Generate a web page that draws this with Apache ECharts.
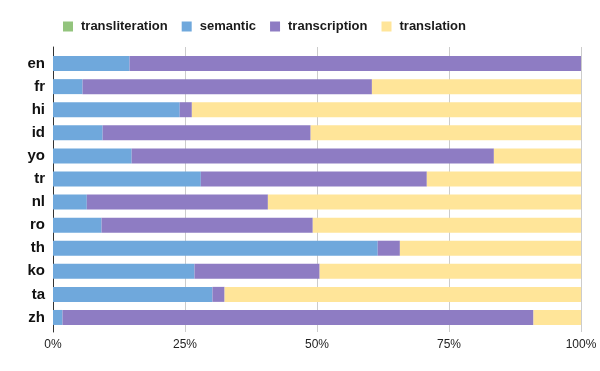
<!DOCTYPE html>
<html>
<head>
<meta charset="utf-8">
<script src="https://cdn.jsdelivr.net/npm/echarts@6/dist/echarts.min.js"></script>
<style>
  html, body { margin: 0; padding: 0; background: #fff; }
  #chart { width: 600px; height: 371px; }
</style>
</head>
<body>
<div id="chart"></div>
<script>
// categories, top to bottom
const languages = ['en', 'fr', 'hi', 'id', 'yo', 'tr', 'nl', 'ro', 'th', 'ko', 'ta', 'zh']
// share of each type, in percent
const transliteration = [0, 0, 0, 0, 0, 0, 0, 0, 0, 0, 0, 0]
const semantic = [14.5, 5.6, 24.0, 9.4, 14.9, 28.0, 6.4, 9.2, 61.5, 26.8, 30.2, 1.8]
const transcription = [85.5, 54.8, 2.3, 39.4, 68.6, 42.8, 34.3, 40.0, 4.2, 23.7, 2.3, 89.2]
const translation = [0, 39.6, 73.7, 51.2, 16.5, 29.2, 59.3, 50.8, 34.3, 49.5, 67.5, 9.0]
const tickLabels = ['0%', '25%', '50%', '75%', '100%']

let chart = echarts.init(document.getElementById('chart'))

function bar(name, data, color) {
  return {
    name: name,
    type: 'bar',
    stack: 'total',
    xAxisIndex: 1,
    yAxisIndex: 1,
    data: data,
    barWidth: 15,
    itemStyle: { color: color },
    emphasis: { disabled: true }
  }
}

chart.setOption({
  animation: false,
  textStyle: { fontFamily: 'Liberation Sans, Arial, sans-serif' },
  legend: {
    top: 15,
    left: 58,
    itemWidth: 10,
    itemHeight: 10,
    itemGap: 14,
    icon: 'rect',
    textStyle: { fontSize: 13, fontWeight: 'bold', color: '#1a1a1a', padding: [0, 0, 0, 3] },
    data: ['transliteration', 'semantic', 'transcription', 'translation']
  },
  // grid 0 carries the gridlines, grid 1 the bars (lines run a bit past the bars)
  grid: [
    { left: 53, right: 19, top: 47, bottom: 39 },
    { left: 53, right: 19, top: 52, bottom: 42 }
  ],
  xAxis: [{
    gridIndex: 0,
    type: 'value',
    min: 0,
    max: 100,
    interval: 25,
    axisLine: { show: false },
    axisTick: { show: false },
    splitLine: { lineStyle: { color: '#cccccc', width: 1 } },
    axisLabel: {
      color: '#222',
      fontSize: 12,
      margin: 7,
      formatter: function(v) {
        return tickLabels[Math.round(v / 25)]
      }
    }
  }, {
    gridIndex: 1,
    type: 'value',
    min: 0,
    max: 100,
    show: false
  }],
  yAxis: [{
    gridIndex: 0,
    type: 'category',
    data: [''],
    axisLine: { show: true, lineStyle: { color: '#333', width: 1 } },
    axisTick: { show: false },
    axisLabel: { show: false }
  }, {
    gridIndex: 1,
    type: 'category',
    inverse: true,
    data: languages,
    axisLine: { show: false },
    axisTick: { show: false },
    axisLabel: { color: '#111', fontSize: 15, fontWeight: 'bold', margin: 8 }
  }],
  series: [
    bar('transliteration', transliteration, '#93c47d'),
    bar('semantic', semantic, '#6fa8dc'),
    bar('transcription', transcription, '#8e7cc3'),
    bar('translation', translation, '#ffe599')
  ]
})
</script>
</body>
</html>
